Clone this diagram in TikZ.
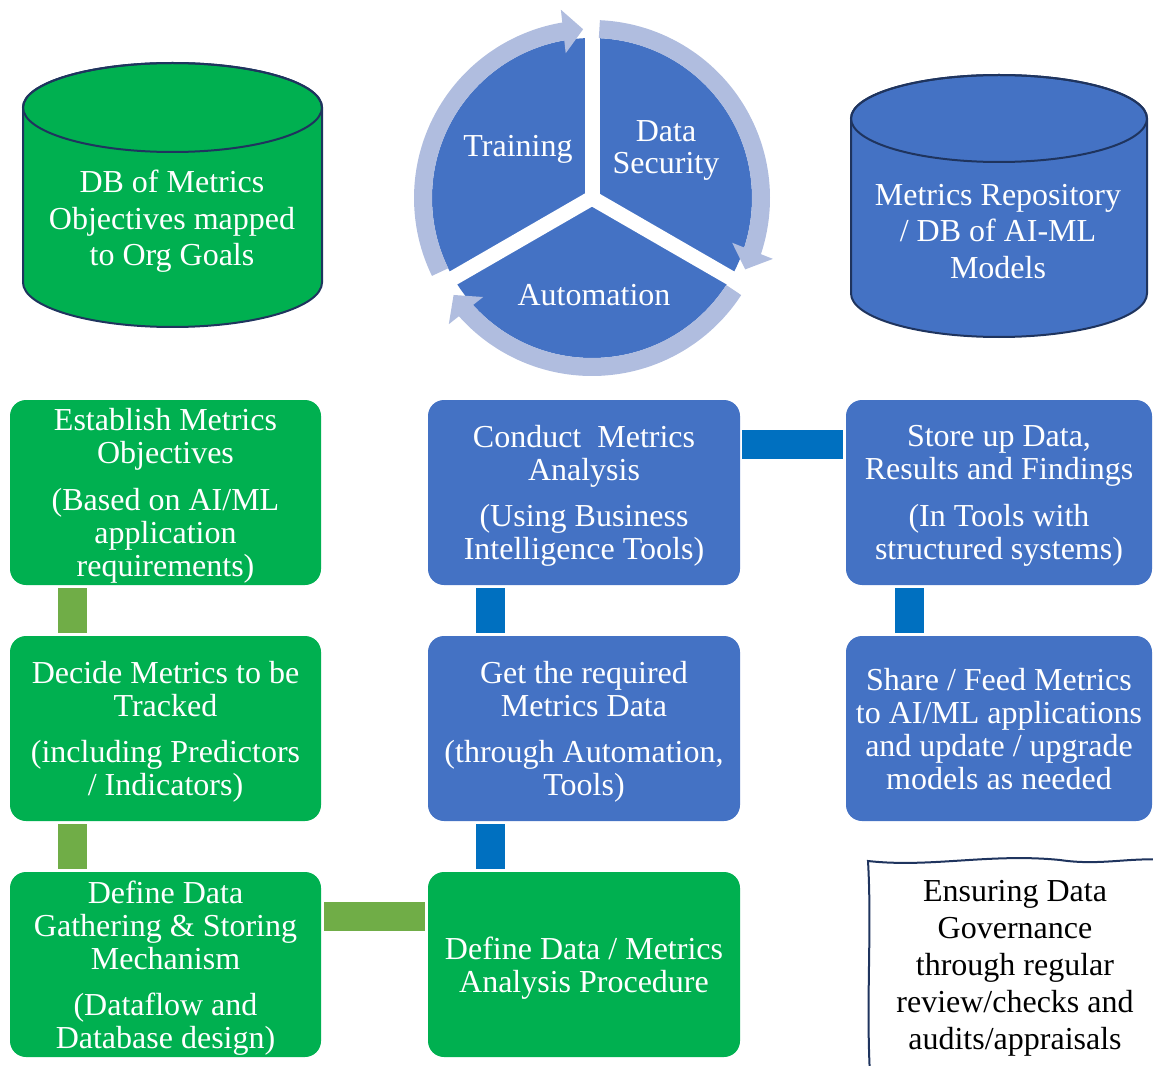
\documentclass[tikz,border=0pt]{standalone}
\usepackage{fontspec}
\setmainfont{Liberation Serif}
\usetikzlibrary{calc,arrows.meta,bending}

\definecolor{boxgreen}{RGB}{0,176,80}
\definecolor{boxblue}{RGB}{68,114,196}
\definecolor{bargreen}{RGB}{112,173,71}
\definecolor{barblue}{RGB}{0,112,192}
\definecolor{ringblue}{RGB}{176,189,223}
\definecolor{navy}{RGB}{31,52,94}

\tikzset{
  stepbox/.style={rectangle,rounded corners=12pt,minimum height=138.75pt,inner sep=0pt,
    text=white,text depth=0pt,align=center,font=\fontsize{24}{24.75}\selectfont},
  greenbox/.style={stepbox,fill=boxgreen},
  bluebox/.style={stepbox,fill=boxblue},
  gbar/.style={draw=bargreen,line width=21.75pt},
  bbar/.style={draw=barblue,line width=21.75pt},
  ringarrow/.style={draw=ringblue,line width=13.5pt,-{Triangle[width=32pt,length=15pt,flex]}},
  dbline/.style={draw=navy,line width=1.5pt},
  dbtext/.style={text=white,text depth=0pt,align=center,font=\fontsize{24}{27.4}\selectfont},
}

\begin{document}
\begin{tikzpicture}[x=0.75pt,y=0.75pt]
  \useasboundingbox (0,0) rectangle (1153,-1066);

  % databases
  \draw[dbline,fill=boxgreen] (23,-107.5) -- (23,-282.5)
    arc[start angle=180,end angle=360,x radius=149.5,y radius=44.5] -- (322,-107.5)
    arc[start angle=0,end angle=180,x radius=149.5,y radius=44.5] -- cycle;
  \draw[dbline] (172.5,-107.5) ellipse[x radius=149.5,y radius=44.5];
  \node[dbtext] (dbgoals) at (172,-218) {DB of Metrics\\Objectives mapped\\to Org Goals};

  \draw[dbline,fill=boxblue] (851,-118.5) -- (851,-293.5)
    arc[start angle=180,end angle=360,x radius=148,y radius=43.5] -- (1147,-118.5)
    arc[start angle=0,end angle=180,x radius=148,y radius=43.5] -- cycle;
  \draw[dbline] (999,-118.5) ellipse[x radius=148,y radius=43.5];
  \node[dbtext] (dbmodels) at (998,-231) {Metrics Repository\\/ DB of AI-ML\\Models};

  % cycle
  \coordinate (hub) at (592,-198);
  \fill[boxblue] (hub) circle[radius=160];
  \foreach \a in {90,-30,210}
    \draw[white,line width=11.25pt] ($(hub)+(\a+180:4)$) -- ($(hub)+(\a:164)$);
  \draw[ringarrow] ($(hub)+(206:169)$) arc[start angle=206,end angle=93,radius=169];
  \draw[ringarrow] ($(hub)+(87.5:169)$) arc[start angle=87.5,end angle=-25,radius=169];
  \draw[ringarrow] ($(hub)+(-33:169)$) arc[start angle=-33,end angle=-145,radius=169];
  \node[dbtext] (train) at (518,-146) {Training};
  \node[dbtext,font=\fontsize{24}{24}\selectfont] (secure) at (666,-147) {Data\\Security};
  \node[dbtext] (auto) at (594,-295) {Automation};

  % steps
  \node[greenbox,minimum width=233.25pt] (est) at (165.5,-492.5)
    {Establish Metrics\\Objectives\\[10pt](Based on AI/ML\\application\\requirements)};
  \node[greenbox,minimum width=233.25pt] (dec) at (165.5,-728.5)
    {Decide Metrics to be\\Tracked\\[10pt](including Predictors\\/ Indicators)};
  \node[greenbox,minimum width=233.25pt] (gat) at (165.5,-964.5)
    {Define Data\\Gathering \& Storing\\Mechanism\\[10pt](Dataflow and\\Database design)};
  \node[greenbox,minimum width=234pt] (proc) at (584,-964.5)
    {Define Data / Metrics\\Analysis Procedure};
  \node[bluebox,minimum width=234pt] (get) at (584,-728.5)
    {Get the required\\Metrics Data\\[10pt](through Automation,\\Tools)};
  \node[bluebox,minimum width=234pt] (con) at (584,-492.5)
    {Conduct~ Metrics\\Analysis\\[10pt](Using Business\\Intelligence Tools)};
  \node[bluebox,minimum width=229.5pt] (store) at (999,-492.5)
    {Store up Data,\\Results and Findings\\[10pt](In Tools with\\structured systems)};
  \node[bluebox,minimum width=229.5pt] (share) at (999,-728.5)
    {Share / Feed Metrics\\to AI/ML applications\\and update / upgrade\\models as needed};

  \draw[gbar] ($(est.south west)+(62.5,-3)$) -- ($(dec.north west)+(62.5,3)$);
  \draw[gbar] ($(dec.south west)+(62.5,-3)$) -- ($(gat.north west)+(62.5,3)$);
  \draw[gbar] ($(gat.north east)+(3,-45)$) -- ($(proc.north west)+(-3,-45)$);
  \draw[bbar] ($(proc.north west)+(62.5,3)$) -- ($(get.south west)+(62.5,-3)$);
  \draw[bbar] ($(get.north west)+(62.5,3)$) -- ($(con.south west)+(62.5,-3)$);
  \draw[bbar] ($(con.north east)+(2,-45)$) -- ($(store.north west)+(-3,-45)$);
  \draw[bbar] ($(store.south west)+(63.5,-3)$) -- ($(share.north west)+(63.5,3)$);

  % governance note
  \draw[navy,line width=1.5pt] (870,-1075) .. controls (866,-1000) and (872,-930) .. (868,-861)
    .. controls (930,-868) and (990,-853) .. (1060,-860)
    .. controls (1100,-866) and (1130,-857) .. (1165,-860);
  \node[align=center,text depth=0pt,font=\fontsize{24}{27.75}\selectfont] (gov) at (1015,-965)
    {Ensuring Data\\Governance\\through regular\\review/checks and\\audits/appraisals};
\end{tikzpicture}
\end{document}
